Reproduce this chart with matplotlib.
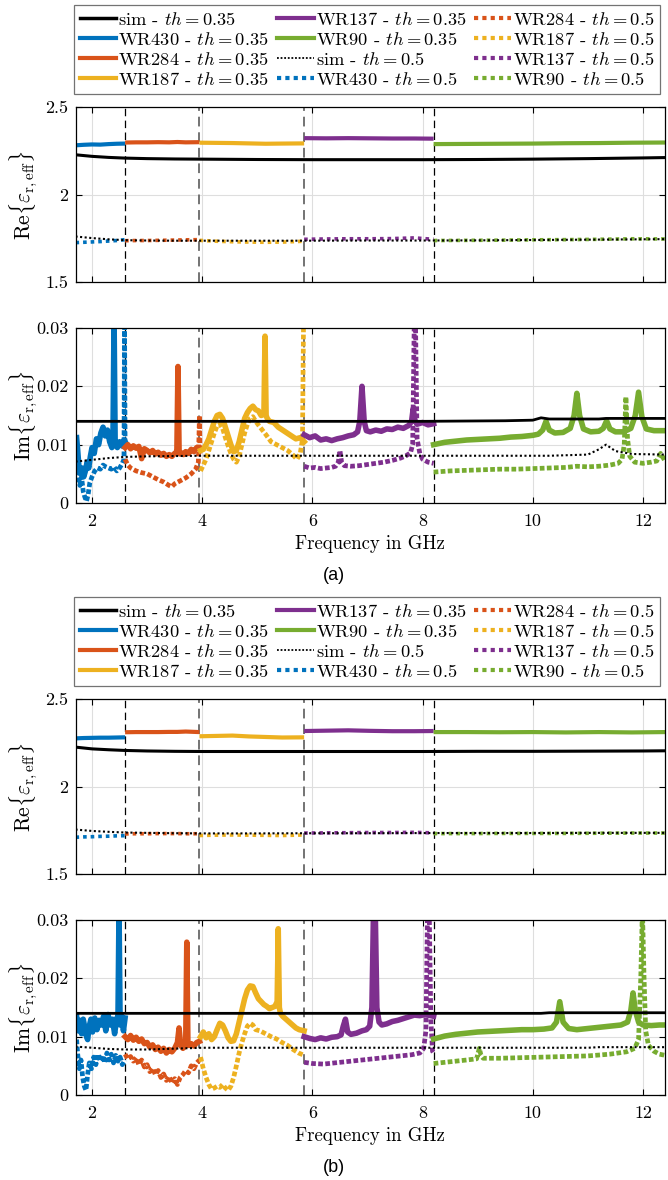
import numpy as np
import matplotlib
matplotlib.use('Agg')
import matplotlib.pyplot as plt
from matplotlib.lines import Line2D

plt.rcParams['font.family'] = 'cmr10'
plt.rcParams['mathtext.fontset'] = 'cm'
plt.rcParams['axes.unicode_minus'] = False
plt.rcParams['axes.formatter.use_mathtext'] = True

# waveguide bands and colours
bands = ['430', '284', '187', '137', '90']
band_names = ['WR430', 'WR284', 'WR187', 'WR137', 'WR90']
colors = ['#0072BD', '#D95319', '#EDB120', '#7E2F8E', '#77AC30']
band_edges = [2.6, 3.95, 5.85, 8.2]

x_ticks = [2, 4, 6, 8, 10, 12]
x_ticklabels = ['2', '4', '6', '8', '10', '12']
re_ticks = [1.5, 2.0, 2.5]
re_ticklabels = ['1.5', '2', '2.5']
im_ticks = [0, 0.01, 0.02, 0.03]
im_ticklabels = ['0', '0.01', '0.02', '0.03']

# ---------------- real part, frequency grids (GHz)
re_f_sim = [1.7, 2.0, 2.3, 2.6, 3.0, 3.5, 4.0, 5.0, 6.0, 7.0, 8.0, 9.0, 10.0, 11.0, 12.0, 12.4]
re_f_430 = [1.70, 1.85, 2.00, 2.15, 2.30, 2.45, 2.60]
re_f_284 = [2.60, 2.80, 3.00, 3.20, 3.40, 3.55, 3.70, 3.95]
re_f_187 = [3.95, 4.25, 4.55, 4.85, 5.15, 5.45, 5.85]
re_f_137 = [5.85, 6.25, 6.65, 7.05, 7.45, 7.85, 8.20]
re_f_90 = [8.20, 8.80, 9.40, 10.00, 10.60, 11.20, 11.80, 12.40]

# (a) real part
re_a_sim35 = [2.227, 2.218, 2.212, 2.208, 2.205, 2.203, 2.202, 2.200, 2.199, 2.199, 2.199, 2.200, 2.202, 2.205, 2.209, 2.211]
re_a_sim50 = [1.760, 1.751, 1.744, 1.739, 1.737, 1.736, 1.736, 1.736, 1.736, 1.737, 1.737, 1.738, 1.740, 1.742, 1.744, 1.745]
re_a_430_35 = [2.281, 2.284, 2.286, 2.285, 2.288, 2.290, 2.291]
re_a_284_35 = [2.297, 2.298, 2.298, 2.299, 2.298, 2.300, 2.298, 2.299]
re_a_187_35 = [2.296, 2.295, 2.294, 2.292, 2.290, 2.291, 2.292]
re_a_137_35 = [2.322, 2.321, 2.322, 2.321, 2.320, 2.320, 2.319]
re_a_90_35 = [2.288, 2.289, 2.290, 2.291, 2.293, 2.294, 2.296, 2.297]
re_a_430_50 = [1.725, 1.727, 1.729, 1.731, 1.734, 1.737, 1.742]
re_a_284_50 = [1.736, 1.737, 1.737, 1.738, 1.739, 1.740, 1.741, 1.742]
re_a_187_50 = [1.738, 1.733, 1.730, 1.728, 1.727, 1.728, 1.733]
re_a_137_50 = [1.744, 1.746, 1.747, 1.747, 1.748, 1.752, 1.744]
re_a_90_50 = [1.737, 1.738, 1.739, 1.741, 1.742, 1.744, 1.747, 1.746]

# (b) real part
re_b_sim35 = [2.225, 2.215, 2.210, 2.206, 2.203, 2.201, 2.200, 2.200, 2.200, 2.200, 2.200, 2.201, 2.201, 2.202, 2.203, 2.204]
re_b_sim50 = [1.754, 1.746, 1.741, 1.737, 1.735, 1.733, 1.732, 1.732, 1.733, 1.733, 1.734, 1.734, 1.734, 1.735, 1.735, 1.735]
re_b_430_35 = [2.275, 2.277, 2.278, 2.279, 2.279, 2.280, 2.281]
re_b_284_35 = [2.310, 2.311, 2.311, 2.311, 2.312, 2.312, 2.314, 2.311]
re_b_187_35 = [2.287, 2.289, 2.291, 2.286, 2.283, 2.280, 2.281]
re_b_137_35 = [2.317, 2.319, 2.321, 2.318, 2.316, 2.316, 2.317]
re_b_90_35 = [2.311, 2.311, 2.310, 2.311, 2.309, 2.311, 2.309, 2.311]
re_b_430_50 = [1.710, 1.712, 1.713, 1.715, 1.716, 1.718, 1.719]
re_b_284_50 = [1.729, 1.730, 1.730, 1.731, 1.731, 1.731, 1.730, 1.730]
re_b_187_50 = [1.720, 1.722, 1.723, 1.722, 1.721, 1.720, 1.723]
re_b_137_50 = [1.734, 1.735, 1.736, 1.737, 1.737, 1.738, 1.735]
re_b_90_50 = [1.731, 1.731, 1.732, 1.732, 1.732, 1.733, 1.734, 1.734]

# ---------------- imaginary part
im_f_sim = [1.7, 2.0, 2.3, 2.6, 3.0, 4.0, 6.0, 8.0, 9.5, 10.0, 10.15, 10.3, 11.0, 11.2, 11.33, 11.5, 11.8, 12.4]
im_a_sim35 = [0.0140, 0.0140, 0.0140, 0.0140, 0.0140, 0.0140, 0.0140, 0.0140, 0.0141, 0.0142, 0.0146, 0.0144, 0.0144, 0.0144, 0.0145, 0.0145, 0.0145, 0.0145]
im_a_sim50 = [0.0071, 0.0074, 0.0077, 0.0079, 0.0080, 0.0081, 0.0081, 0.0081, 0.0081, 0.0081, 0.0081, 0.0081, 0.0083, 0.0092, 0.0100, 0.0089, 0.0084, 0.0083]
im_b_sim35 = [0.0140, 0.0140, 0.0140, 0.0140, 0.0140, 0.0140, 0.0140, 0.0140, 0.0140, 0.0140, 0.0140, 0.0141, 0.0141, 0.0141, 0.0141, 0.0141, 0.0141, 0.0141]
im_b_sim50 = [0.0083, 0.0081, 0.0079, 0.0078, 0.0078, 0.0081, 0.0081, 0.0081, 0.0081, 0.0081, 0.0081, 0.0081, 0.0081, 0.0082, 0.0082, 0.0082, 0.0082, 0.0082]

# (a) imaginary part
im_a_f_430_35 = [1.72, 1.74, 1.76, 1.79, 1.82, 1.85, 1.88, 1.91, 1.94, 1.97, 2.00, 2.04, 2.08, 2.12, 2.16, 2.20, 2.24, 2.28, 2.32, 2.36, 2.38, 2.40, 2.42, 2.46, 2.50, 2.54, 2.58, 2.60]
im_a_430_35 = [0.0112, 0.0090, 0.0065, 0.0050, 0.0060, 0.0045, 0.0055, 0.0070, 0.0060, 0.0080, 0.0095, 0.0085, 0.0110, 0.0100, 0.0120, 0.0130, 0.0115, 0.0125, 0.0105, 0.0095, 0.0110, 0.0320, 0.0100, 0.0095, 0.0105, 0.0098, 0.0108, 0.0105]
im_a_f_430_50 = [1.72, 1.75, 1.78, 1.81, 1.84, 1.87, 1.90, 1.93, 1.96, 2.00, 2.05, 2.10, 2.15, 2.20, 2.25, 2.30, 2.35, 2.40, 2.45, 2.50, 2.55, 2.58, 2.59, 2.60]
im_a_430_50 = [0.0080, 0.0050, 0.0030, 0.0045, 0.0020, 0.0010, 0.0003, 0.0015, 0.0035, 0.0045, 0.0055, 0.0060, 0.0058, 0.0065, 0.0062, 0.0060, 0.0058, 0.0062, 0.0055, 0.0060, 0.0068, 0.0075, 0.0320, 0.0100]
im_a_f_284_35 = [2.60, 2.65, 2.70, 2.75, 2.80, 2.85, 2.90, 2.95, 3.00, 3.05, 3.10, 3.15, 3.20, 3.25, 3.30, 3.35, 3.40, 3.45, 3.50, 3.54, 3.56, 3.58, 3.60, 3.62, 3.66, 3.70, 3.75, 3.80, 3.85, 3.90, 3.95]
im_a_284_35 = [0.0095, 0.0100, 0.0093, 0.0098, 0.0094, 0.0097, 0.0076, 0.0093, 0.0090, 0.0086, 0.0090, 0.0084, 0.0087, 0.0082, 0.0085, 0.0080, 0.0083, 0.0080, 0.0085, 0.0088, 0.0234, 0.0090, 0.0084, 0.0086, 0.0083, 0.0088, 0.0085, 0.0092, 0.0088, 0.0095, 0.0093]
im_a_f_284_50 = [2.60, 2.65, 2.70, 2.80, 2.90, 3.00, 3.10, 3.20, 3.30, 3.40, 3.45, 3.50, 3.60, 3.70, 3.80, 3.88, 3.93, 3.95, 3.96]
im_a_284_50 = [0.0075, 0.0065, 0.0060, 0.0055, 0.0052, 0.0050, 0.0045, 0.0040, 0.0036, 0.0030, 0.0028, 0.0033, 0.0038, 0.0043, 0.0050, 0.0058, 0.0070, 0.0150, 0.0085]
im_a_f_187_35 = [3.97, 4.02, 4.07, 4.12, 4.17, 4.22, 4.27, 4.32, 4.37, 4.42, 4.47, 4.52, 4.57, 4.62, 4.67, 4.72, 4.77, 4.82, 4.87, 4.92, 4.97, 5.02, 5.07, 5.12, 5.14, 5.16, 5.18, 5.22, 5.30, 5.38, 5.46, 5.54, 5.62, 5.70, 5.78, 5.85]
im_a_187_35 = [0.0090, 0.0092, 0.0100, 0.0110, 0.0125, 0.0140, 0.0150, 0.0152, 0.0145, 0.0130, 0.0115, 0.0100, 0.0088, 0.0090, 0.0105, 0.0125, 0.0145, 0.0155, 0.0162, 0.0166, 0.0160, 0.0158, 0.0150, 0.0152, 0.0286, 0.0150, 0.0145, 0.0140, 0.0138, 0.0130, 0.0125, 0.0120, 0.0115, 0.0110, 0.0112, 0.0105]
im_a_f_187_50 = [3.97, 4.02, 4.07, 4.12, 4.17, 4.22, 4.27, 4.32, 4.37, 4.42, 4.47, 4.52, 4.57, 4.62, 4.67, 4.72, 4.77, 4.82, 4.87, 4.92, 4.97, 5.05, 5.15, 5.25, 5.35, 5.45, 5.55, 5.65, 5.72, 5.78, 5.82, 5.84, 5.85]
im_a_187_50 = [0.0055, 0.0065, 0.0075, 0.0090, 0.0105, 0.0120, 0.0132, 0.0135, 0.0128, 0.0112, 0.0098, 0.0085, 0.0075, 0.0070, 0.0080, 0.0100, 0.0120, 0.0135, 0.0145, 0.0148, 0.0140, 0.0130, 0.0118, 0.0105, 0.0100, 0.0095, 0.0090, 0.0082, 0.0075, 0.0085, 0.0110, 0.0320, 0.0320]
im_a_f_137_35 = [5.85, 5.95, 6.05, 6.15, 6.25, 6.35, 6.45, 6.55, 6.65, 6.75, 6.82, 6.86, 6.90, 6.94, 6.98, 7.05, 7.15, 7.25, 7.35, 7.45, 7.55, 7.65, 7.75, 7.80, 7.83, 7.86, 7.90, 8.00, 8.10, 8.20]
im_a_137_35 = [0.0117, 0.0112, 0.0115, 0.0108, 0.0110, 0.0107, 0.0110, 0.0112, 0.0115, 0.0117, 0.0122, 0.0140, 0.0200, 0.0140, 0.0124, 0.0122, 0.0125, 0.0123, 0.0127, 0.0126, 0.0130, 0.0128, 0.0133, 0.0140, 0.0162, 0.0142, 0.0135, 0.0138, 0.0134, 0.0136]
im_a_f_137_50 = [5.85, 5.95, 6.05, 6.15, 6.25, 6.35, 6.42, 6.47, 6.50, 6.53, 6.58, 6.70, 6.85, 7.00, 7.15, 7.30, 7.45, 7.60, 7.70, 7.78, 7.82, 7.85, 7.87, 7.90, 7.95, 8.00, 8.10, 8.20]
im_a_137_50 = [0.0063, 0.0060, 0.0061, 0.0059, 0.0060, 0.0061, 0.0063, 0.0070, 0.0090, 0.0070, 0.0064, 0.0063, 0.0064, 0.0066, 0.0068, 0.0070, 0.0073, 0.0077, 0.0081, 0.0086, 0.0100, 0.0320, 0.0320, 0.0110, 0.0085, 0.0075, 0.0070, 0.0068]
im_a_f_90_35 = [8.20, 8.40, 8.60, 8.80, 9.00, 9.20, 9.40, 9.60, 9.80, 10.00, 10.10, 10.18, 10.24, 10.30, 10.40, 10.55, 10.68, 10.75, 10.80, 10.85, 10.92, 11.05, 11.20, 11.28, 11.34, 11.40, 11.50, 11.65, 11.78, 11.86, 11.92, 11.98, 12.06, 12.20, 12.40]
im_a_90_35 = [0.0100, 0.0104, 0.0106, 0.0108, 0.0109, 0.0110, 0.0111, 0.0113, 0.0114, 0.0116, 0.0118, 0.0125, 0.0140, 0.0125, 0.0120, 0.0121, 0.0128, 0.0150, 0.0188, 0.0150, 0.0127, 0.0122, 0.0123, 0.0128, 0.0141, 0.0127, 0.0122, 0.0122, 0.0128, 0.0150, 0.0190, 0.0148, 0.0127, 0.0124, 0.0124]
im_a_f_90_50 = [8.20, 8.50, 8.80, 9.10, 9.40, 9.70, 10.00, 10.30, 10.60, 10.80, 11.00, 11.20, 11.40, 11.55, 11.62, 11.66, 11.69, 11.72, 11.76, 11.85, 12.00, 12.15, 12.25, 12.32, 12.40]
im_a_90_50 = [0.0053, 0.0055, 0.0056, 0.0057, 0.0058, 0.0058, 0.0059, 0.0060, 0.0061, 0.0063, 0.0062, 0.0063, 0.0065, 0.0068, 0.0075, 0.0100, 0.0182, 0.0110, 0.0080, 0.0070, 0.0068, 0.0070, 0.0072, 0.0085, 0.0072]

# (b) imaginary part
im_b_f_430_35 = [1.72, 1.75, 1.78, 1.81, 1.84, 1.87, 1.90, 1.92, 1.95, 1.98, 2.01, 2.05, 2.09, 2.13, 2.17, 2.21, 2.25, 2.29, 2.33, 2.37, 2.41, 2.45, 2.47, 2.49, 2.51, 2.54, 2.57, 2.60]
im_b_430_35 = [0.0135, 0.0110, 0.0128, 0.0105, 0.0130, 0.0115, 0.0100, 0.0095, 0.0118, 0.0130, 0.0108, 0.0132, 0.0112, 0.0128, 0.0120, 0.0135, 0.0110, 0.0138, 0.0120, 0.0130, 0.0105, 0.0132, 0.0125, 0.0320, 0.0120, 0.0135, 0.0110, 0.0132]
im_b_f_430_50 = [1.72, 1.74, 1.77, 1.80, 1.83, 1.86, 1.89, 1.92, 1.95, 1.99, 2.03, 2.07, 2.11, 2.15, 2.19, 2.23, 2.27, 2.31, 2.35, 2.39, 2.43, 2.47, 2.51, 2.55, 2.60]
im_b_430_50 = [0.0095, 0.0070, 0.0045, 0.0060, 0.0030, 0.0015, 0.0008, 0.0035, 0.0055, 0.0045, 0.0065, 0.0052, 0.0070, 0.0058, 0.0068, 0.0055, 0.0072, 0.0060, 0.0070, 0.0055, 0.0068, 0.0058, 0.0065, 0.0052, 0.0060]
im_b_f_284_35 = [2.60, 2.65, 2.70, 2.75, 2.80, 2.85, 2.90, 2.95, 3.00, 3.05, 3.10, 3.15, 3.20, 3.25, 3.30, 3.35, 3.40, 3.45, 3.50, 3.55, 3.58, 3.61, 3.65, 3.70, 3.72, 3.74, 3.76, 3.80, 3.85, 3.90, 3.95]
im_b_284_35 = [0.0100, 0.0095, 0.0102, 0.0094, 0.0099, 0.0092, 0.0096, 0.0088, 0.0090, 0.0082, 0.0086, 0.0078, 0.0082, 0.0075, 0.0080, 0.0072, 0.0078, 0.0074, 0.0080, 0.0090, 0.0115, 0.0085, 0.0080, 0.0085, 0.0262, 0.0090, 0.0085, 0.0088, 0.0084, 0.0090, 0.0092]
im_b_f_284_50 = [2.60, 2.65, 2.70, 2.75, 2.80, 2.85, 2.90, 2.95, 3.00, 3.05, 3.10, 3.15, 3.20, 3.25, 3.30, 3.35, 3.40, 3.45, 3.50, 3.55, 3.60, 3.65, 3.70, 3.75, 3.80, 3.85, 3.90, 3.95]
im_b_284_50 = [0.0070, 0.0062, 0.0066, 0.0058, 0.0064, 0.0052, 0.0060, 0.0048, 0.0052, 0.0040, 0.0046, 0.0035, 0.0042, 0.0030, 0.0036, 0.0025, 0.0032, 0.0020, 0.0028, 0.0018, 0.0030, 0.0035, 0.0042, 0.0038, 0.0050, 0.0045, 0.0055, 0.0060]
im_b_f_187_35 = [3.97, 4.02, 4.07, 4.12, 4.17, 4.22, 4.27, 4.32, 4.37, 4.42, 4.47, 4.52, 4.57, 4.62, 4.67, 4.72, 4.77, 4.82, 4.87, 4.92, 4.97, 5.02, 5.07, 5.12, 5.17, 5.22, 5.27, 5.32, 5.36, 5.38, 5.40, 5.42, 5.46, 5.52, 5.58, 5.64, 5.70, 5.76, 5.85]
im_b_187_35 = [0.0100, 0.0108, 0.0098, 0.0105, 0.0095, 0.0100, 0.0112, 0.0123, 0.0120, 0.0110, 0.0098, 0.0092, 0.0093, 0.0105, 0.0125, 0.0145, 0.0165, 0.0180, 0.0187, 0.0186, 0.0175, 0.0165, 0.0160, 0.0155, 0.0152, 0.0148, 0.0150, 0.0152, 0.0160, 0.0285, 0.0150, 0.0140, 0.0135, 0.0130, 0.0125, 0.0120, 0.0115, 0.0112, 0.0110]
im_b_f_187_50 = [3.97, 4.02, 4.07, 4.12, 4.17, 4.22, 4.27, 4.32, 4.37, 4.42, 4.47, 4.52, 4.57, 4.62, 4.67, 4.72, 4.77, 4.82, 4.87, 4.92, 4.97, 5.05, 5.15, 5.25, 5.35, 5.45, 5.55, 5.65, 5.75, 5.85]
im_b_187_50 = [0.0065, 0.0045, 0.0030, 0.0018, 0.0010, 0.0012, 0.0015, 0.0013, 0.0018, 0.0012, 0.0008, 0.0015, 0.0030, 0.0050, 0.0072, 0.0090, 0.0105, 0.0118, 0.0123, 0.0120, 0.0112, 0.0110, 0.0105, 0.0100, 0.0096, 0.0090, 0.0085, 0.0078, 0.0072, 0.0068]
im_b_f_137_35 = [5.85, 5.95, 6.05, 6.15, 6.25, 6.35, 6.45, 6.52, 6.56, 6.60, 6.64, 6.70, 6.80, 6.90, 6.98, 7.04, 7.08, 7.11, 7.14, 7.17, 7.21, 7.26, 7.35, 7.45, 7.55, 7.65, 7.75, 7.85, 7.95, 8.05, 8.20]
im_b_137_35 = [0.0100, 0.0097, 0.0095, 0.0098, 0.0096, 0.0099, 0.0100, 0.0103, 0.0118, 0.0130, 0.0108, 0.0104, 0.0106, 0.0110, 0.0112, 0.0118, 0.0150, 0.0320, 0.0320, 0.0150, 0.0125, 0.0120, 0.0122, 0.0126, 0.0128, 0.0131, 0.0134, 0.0137, 0.0136, 0.0138, 0.0135]
im_b_f_137_50 = [5.85, 6.00, 6.20, 6.40, 6.60, 6.80, 7.00, 7.20, 7.40, 7.60, 7.80, 7.95, 8.02, 8.06, 8.09, 8.12, 8.15, 8.18, 8.20]
im_b_137_50 = [0.0056, 0.0054, 0.0053, 0.0055, 0.0057, 0.0059, 0.0061, 0.0063, 0.0065, 0.0067, 0.0069, 0.0072, 0.0080, 0.0110, 0.0320, 0.0320, 0.0130, 0.0075, 0.0072]
im_b_f_90_35 = [8.20, 8.40, 8.60, 8.80, 9.00, 9.20, 9.40, 9.60, 9.80, 10.00, 10.20, 10.35, 10.43, 10.49, 10.55, 10.65, 10.80, 11.00, 11.20, 11.40, 11.60, 11.72, 11.78, 11.82, 11.86, 11.92, 12.00, 12.15, 12.30, 12.40]
im_b_90_35 = [0.0096, 0.0101, 0.0104, 0.0106, 0.0108, 0.0109, 0.0110, 0.0111, 0.0112, 0.0112, 0.0113, 0.0115, 0.0125, 0.0160, 0.0125, 0.0114, 0.0112, 0.0114, 0.0116, 0.0118, 0.0120, 0.0125, 0.0145, 0.0175, 0.0145, 0.0125, 0.0120, 0.0119, 0.0120, 0.0120]
im_b_f_90_50 = [8.20, 8.50, 8.80, 8.98, 9.03, 9.06, 9.10, 9.40, 9.80, 10.20, 10.60, 11.00, 11.40, 11.70, 11.85, 11.92, 11.96, 11.99, 12.02, 12.05, 12.10, 12.20, 12.30, 12.40]
im_b_90_50 = [0.0054, 0.0057, 0.0060, 0.0062, 0.0080, 0.0068, 0.0063, 0.0063, 0.0064, 0.0065, 0.0066, 0.0067, 0.0070, 0.0074, 0.0080, 0.0095, 0.0200, 0.0320, 0.0200, 0.0110, 0.0085, 0.0075, 0.0070, 0.0068]

re_f = {'430': re_f_430, '284': re_f_284, '187': re_f_187, '137': re_f_137, '90': re_f_90}
re_a = {'430_35': re_a_430_35, '284_35': re_a_284_35, '187_35': re_a_187_35, '137_35': re_a_137_35, '90_35': re_a_90_35,
        '430_50': re_a_430_50, '284_50': re_a_284_50, '187_50': re_a_187_50, '137_50': re_a_137_50, '90_50': re_a_90_50,
        'sim35': re_a_sim35, 'sim50': re_a_sim50}
re_b = {'430_35': re_b_430_35, '284_35': re_b_284_35, '187_35': re_b_187_35, '137_35': re_b_137_35, '90_35': re_b_90_35,
        '430_50': re_b_430_50, '284_50': re_b_284_50, '187_50': re_b_187_50, '137_50': re_b_137_50, '90_50': re_b_90_50,
        'sim35': re_b_sim35, 'sim50': re_b_sim50}
im_a = {'430_35': (im_a_f_430_35, im_a_430_35), '284_35': (im_a_f_284_35, im_a_284_35),
        '187_35': (im_a_f_187_35, im_a_187_35), '137_35': (im_a_f_137_35, im_a_137_35),
        '90_35': (im_a_f_90_35, im_a_90_35),
        '430_50': (im_a_f_430_50, im_a_430_50), '284_50': (im_a_f_284_50, im_a_284_50),
        '187_50': (im_a_f_187_50, im_a_187_50), '137_50': (im_a_f_137_50, im_a_137_50),
        '90_50': (im_a_f_90_50, im_a_90_50),
        'sim35': (im_f_sim, im_a_sim35), 'sim50': (im_f_sim, im_a_sim50)}
im_b = {'430_35': (im_b_f_430_35, im_b_430_35), '284_35': (im_b_f_284_35, im_b_284_35),
        '187_35': (im_b_f_187_35, im_b_187_35), '137_35': (im_b_f_137_35, im_b_137_35),
        '90_35': (im_b_f_90_35, im_b_90_35),
        '430_50': (im_b_f_430_50, im_b_430_50), '284_50': (im_b_f_284_50, im_b_284_50),
        '187_50': (im_b_f_187_50, im_b_187_50), '137_50': (im_b_f_137_50, im_b_137_50),
        '90_50': (im_b_f_90_50, im_b_90_50),
        'sim35': (im_f_sim, im_b_sim35), 'sim50': (im_f_sim, im_b_sim50)}

W, H = 668, 1180
fig = plt.figure(figsize=(W / 100, H / 100), dpi=100)


def rect(top, bottom):
    return [75.5 / W, 1 - bottom / H, 589.5 / W, (bottom - top) / H]


def style_axes(ax, yticks, yticklabels, ylim, ylabel, show_x):
    ax.set_xlim(1.7, 12.4)
    ax.set_ylim(*ylim)
    ax.set_xticks(x_ticks)
    ax.set_yticks(yticks)
    ax.set_yticklabels(yticklabels)
    if show_x:
        ax.set_xticklabels(x_ticklabels)
        ax.set_xlabel('Frequency in GHz', fontsize=13.5, labelpad=4)
    else:
        ax.set_xticklabels([])
    ax.tick_params(direction='in', top=True, right=True, length=4.5, width=0.8,
                   labelsize=13, pad=5, colors='k')
    ax.tick_params(axis='x', pad=8)
    ax.grid(True, color='0.87', lw=0.8)
    ax.set_axisbelow(True)
    for s in ax.spines.values():
        s.set_linewidth(0.9)
    ax.set_ylabel(ylabel, fontsize=15.5)
    ax.yaxis.set_label_coords(-0.062, 0.5)
    for e in band_edges:
        if e in (2.6, 8.2):
            ax.axvline(e, color='k', lw=0.9, dashes=(6, 3.5), zorder=1.5)
        else:
            ax.axvline(e, color='0.45', lw=1.4, dashes=(5, 3), zorder=1.5)


def draw_panel(dy, re, im, caption):
    ax_re = fig.add_axes(rect(107 + dy, 282 + dy))
    ax_im = fig.add_axes(rect(328 + dy, 503 + dy))
    for b, col in zip(bands, colors):
        ax_re.plot(re_f[b], re[b + '_35'], color=col, lw=3, solid_capstyle='butt')
        ax_re.plot(re_f[b], re[b + '_50'], color=col, lw=2.6, dashes=(1, 1.1))
        f, v = im[b + '_35']
        ax_im.plot(f, v, color=col, lw=4, solid_joinstyle='round')
        f, v = im[b + '_50']
        ax_im.plot(f, v, color=col, lw=3.4, dashes=(1, 0.5))
    ax_re.plot(re_f_sim, re['sim35'], color='k', lw=2.2, zorder=3)
    ax_re.plot(re_f_sim, re['sim50'], color='k', lw=1.5, dashes=(1, 1.2), zorder=3)
    f, v = im['sim35']
    ax_im.plot(f, v, color='k', lw=2.0, zorder=3)
    f, v = im['sim50']
    ax_im.plot(f, v, color='k', lw=1.5, dashes=(1, 1.2), zorder=3)

    style_axes(ax_re, re_ticks, re_ticklabels, (1.5, 2.5),
               r'$\mathrm{Re}\{\varepsilon_{\mathrm{r,eff}}\}$', False)
    style_axes(ax_im, im_ticks, im_ticklabels, (0, 0.03),
               r'$\mathrm{Im}\{\varepsilon_{\mathrm{r,eff}}\}$', True)

    leg_handles = ([Line2D([], [], color='k', lw=2.5)]
                   + [Line2D([], [], color=c, lw=3) for c in colors]
                   + [Line2D([], [], color='k', lw=1.3, dashes=(1, 1))]
                   + [Line2D([], [], color=c, lw=3, dashes=(1, 1)) for c in colors])
    leg_labels = (['sim - $th = 0.35$'] + [n + ' - $th = 0.35$' for n in band_names]
                  + ['sim - $th = 0.5$'] + [n + ' - $th = 0.5$' for n in band_names])
    leg = fig.legend(leg_handles, leg_labels, ncol=3, loc='upper left',
                     bbox_to_anchor=(74 / W, 1 - (5 + dy) / H, 586 / W, 0), mode='expand',
                     fontsize=13.3, handlelength=2.0, handletextpad=0.1,
                     labelspacing=0.17, borderpad=0.3, borderaxespad=0,
                     columnspacing=0.3, fancybox=False, framealpha=1,
                     edgecolor='0.45')
    leg.get_frame().set_linewidth(0.9)
    fig.text(0.5, 1 - (575 + dy) / H, caption, ha='center', va='center',
             family='Liberation Sans', fontsize=13)


draw_panel(0, re_a, im_a, '(a)')
draw_panel(592, re_b, im_b, '(b)')

fig.savefig('out.png', dpi=100)
